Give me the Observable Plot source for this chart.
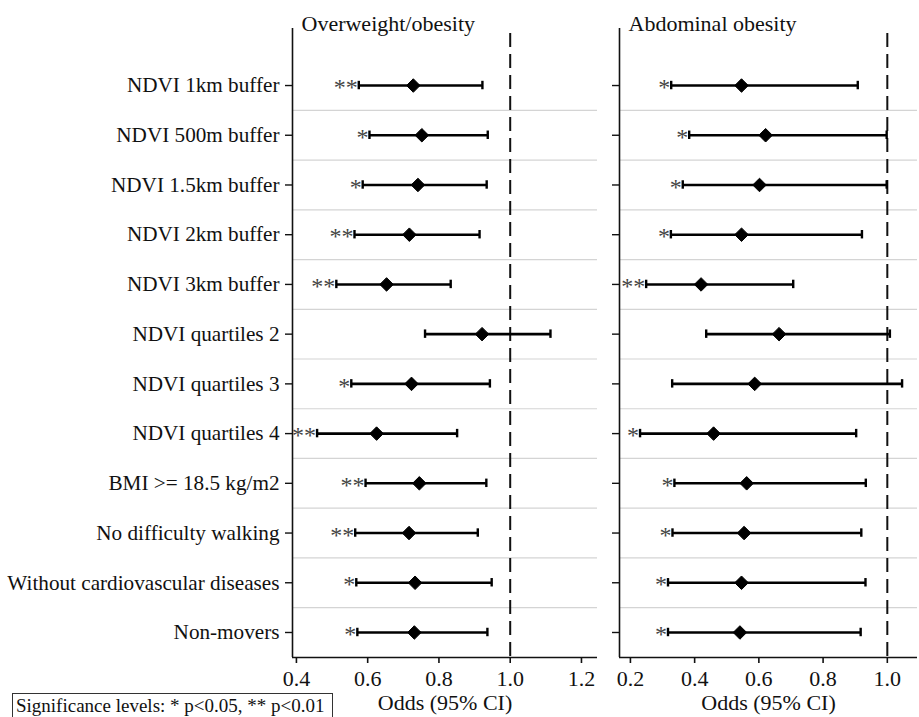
<!DOCTYPE html>
<html>
<head>
<meta charset="utf-8">
<script src="https://cdn.jsdelivr.net/npm/d3@7"></script>
<script src="https://cdn.jsdelivr.net/npm/@observablehq/plot@0.6"></script>
<style>
  html, body { margin: 0; padding: 0; background: #fff; }
  #wrap { position: relative; width: 919px; height: 717px; overflow: hidden; font-family: "Liberation Serif", "Times New Roman", serif; }
  #wrap svg { position: absolute; top: 0; background: transparent; }
  #sig { position: absolute; left: 12px; top: 693px; width: 321px; height: 40px; border: 1px solid #333; box-sizing: border-box;
         font-family: "Liberation Serif", serif; font-size: 19px; line-height: 24px; padding-left: 3px; color: #111; white-space: nowrap; }
</style>
</head>
<body>
<div id="wrap">
  <div id="left"></div>
  <div id="right"></div>
  <div id="sig">Significance levels: * p&lt;0.05, ** p&lt;0.01</div>
</div>
<script>
const labels = ["NDVI 1km buffer","NDVI 500m buffer","NDVI 1.5km buffer","NDVI 2km buffer","NDVI 3km buffer","NDVI quartiles 2","NDVI quartiles 3","NDVI quartiles 4","BMI >= 18.5 kg/m2","No difficulty walking","Without cardiovascular diseases","Non-movers"];

const titleOw = "Overweight/obesity";
const orOw  = [0.728,0.752,0.741,0.717,0.653,0.921,0.723,0.625,0.745,0.716,0.733,0.731];
const loOw  = [0.575,0.605,0.586,0.563,0.512,0.761,0.554,0.458,0.594,0.565,0.568,0.571];
const hiOw  = [0.922,0.937,0.934,0.914,0.833,1.113,0.943,0.851,0.933,0.909,0.948,0.936];
const sigOw = ["**","*","*","**","**","","*","**","**","**","*","*"];
const ticksOw = [0.4,0.6,0.8,1.0,1.2];
const domainOw = [0.389,1.245];

const titleAb = "Abdominal obesity";
const orAb  = [0.546,0.621,0.602,0.546,0.420,0.663,0.587,0.459,0.562,0.554,0.546,0.541];
const loAb  = [0.327,0.383,0.363,0.326,0.249,0.436,0.330,0.230,0.337,0.331,0.317,0.317];
const hiAb  = [0.908,0.998,0.998,0.921,0.707,1.008,1.046,0.903,0.933,0.919,0.932,0.917];
const sigAb = ["*","*","*","*","**","","","*","*","*","*","*"];
const ticksAb = [0.2,0.4,0.6,0.8,1.0];
const domainAb = [0.166,1.094];

const refLine = [1];
const xLabel = "Odds (95% CI)";
const yDomain = [-1.147, 11.503];

const idx = labels.map((_, i) => i);
const gridIdx = idx.slice(0, -1).map(i => i + 0.5);

function panel({title, or, lo, hi, sig, ticks, domain, width, marginLeft, marginRight, showLabels}) {
  const data = idx.map(i => ({i, or: or[i], lo: lo[i], hi: hi[i], sig: sig[i]}));
  return Plot.plot({
    width, height: 717,
    marginLeft, marginRight, marginTop: 28, marginBottom: 60,
    style: {fontFamily: "'Liberation Serif', 'Times New Roman', serif", fontSize: "22px", background: "transparent", color: "#111"},
    x: {domain, label: null},
    y: {domain: yDomain, reverse: true, label: null},
    marks: [
      Plot.ruleY(gridIdx, {stroke: "#d4d4d4", strokeWidth: 1.2}),
      Plot.ruleX(refLine, {stroke: "#111", strokeWidth: 2, strokeDasharray: "14,7", strokeDashoffset: 16}),
      Plot.ruleX([domain[0]], {stroke: "#111", strokeWidth: 1.6}),
      Plot.ruleY([yDomain[1]], {stroke: "#111", strokeWidth: 1.6}),
      Plot.axisY({ticks: idx, tickSize: 7, tickPadding: 6, strokeWidth: 1.4,
                  tickFormat: showLabels ? (i => labels[i]) : (() => ""), fontSize: 21.2, label: null}),
      Plot.axisX({ticks, tickSize: 6, tickPadding: 7, strokeWidth: 1.6, tickFormat: d3.format(".1f"), label: null}),
      Plot.ruleY(data, {y: "i", x1: "lo", x2: "hi", stroke: "#000", strokeWidth: 2.6}),
      Plot.ruleX(data, {x: "lo", y1: d => d.i - 0.085, y2: d => d.i + 0.085, stroke: "#000", strokeWidth: 2.4}),
      Plot.ruleX(data, {x: "hi", y1: d => d.i - 0.085, y2: d => d.i + 0.085, stroke: "#000", strokeWidth: 2.4}),
      Plot.dot(data, {x: "or", y: "i", symbol: "diamond2", r: 6.1, fill: "#000", stroke: "#000", strokeWidth: 1}),
      Plot.text(data.filter(d => d.sig), {x: "lo", y: "i", text: "sig", textAnchor: "end", dx: -1, dy: 2, fill: "#444", fontSize: 24}),
      Plot.text([title], {frameAnchor: "top-left", lineAnchor: "bottom", textAnchor: "start", dx: 9, dy: 2, fontSize: 22, fill: "#111"}),
      Plot.text([xLabel], {frameAnchor: "bottom", lineAnchor: "bottom", dy: 52, fontSize: 22, fill: "#111"})
    ]
  });
}

const left = panel({title: titleOw, or: orOw, lo: loOw, hi: hiOw, sig: sigOw, ticks: ticksOw, domain: domainOw,
                    width: 600, marginLeft: 292, marginRight: 3, showLabels: true});
left.style.left = "0px";
document.getElementById("left").appendChild(left);

const right = panel({title: titleAb, or: orAb, lo: loAb, hi: hiAb, sig: sigAb, ticks: ticksAb, domain: domainAb,
                     width: 319, marginLeft: 19, marginRight: 2, showLabels: false});
right.style.left = "600px";
document.getElementById("right").appendChild(right);
</script>
</body>
</html>
